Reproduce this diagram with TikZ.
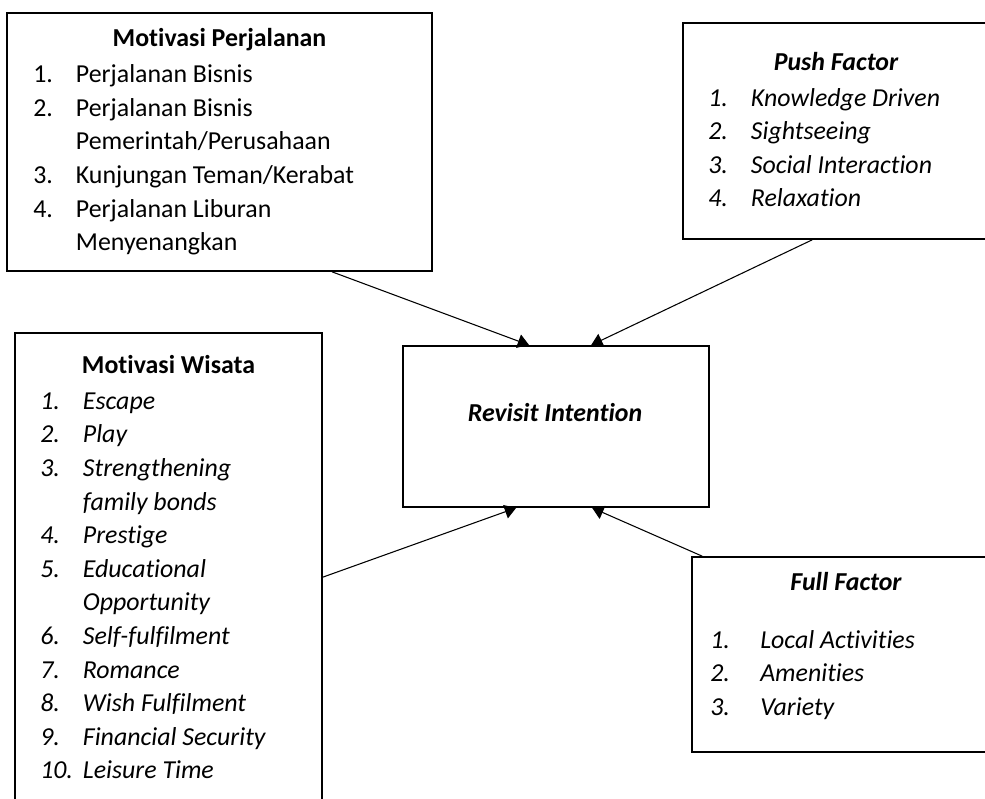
\documentclass[tikz,border=0pt]{standalone}
\usepackage{fontspec}
\setmainfont{Carlito}[Ligatures=NoCommon]
\usetikzlibrary{arrows.meta,calc,fit}
\newcommand{\itm}[3][32pt]{\makebox[#1][l]{#2}#3}
\newcommand{\lst}[1]{\begin{tabular}[t]{@{}l@{}}#1\end{tabular}}
\begin{document}
\begin{tikzpicture}[x=0.75pt,y=-0.75pt,>={Triangle[width=10.5pt,length=8.5pt]},
    box/.style={draw,line width=1.3pt,inner sep=0pt},
    list/.style={anchor=base west,inner sep=0pt,font=\fontsize{19.4}{25.2}\selectfont},
    ilist/.style={list,font=\fontsize{19.4}{25.2}\selectfont\itshape},
    head/.style={anchor=base,inner sep=0pt,font=\fontsize{19.4}{22}\selectfont\bfseries},
    ihead/.style={head,font=\fontsize{19.4}{22}\selectfont\bfseries\itshape},
    conn/.style={->,line width=0.8pt}]
    \clip (0,0) rectangle (985,799);
    % boxes
    \node[box,fit={(7,13) (432,271)}] (mp) {};
    \node[box,fit={(683,23) (989,239)}] (pf) {};
    \node[box,fit={(15,333) (322,830)}] (mw) {};
    \node[box,fit={(403,346) (709,507)}] (ri) {};
    \node[box,fit={(692,557) (1000,752)}] (ff) {};
    % texts
    \node[head] (mph) at (219.5,46.7) {Motivasi Perjalanan};
    \node[list] (mpl) at (33,82.7) {\lst{\itm{1.}{Perjalanan Bisnis}\\ \itm{2.}{Perjalanan Bisnis}\\ \itm{}{Pemerintah/Perusahaan}\\
        \itm{3.}{Kunjungan Teman/Kerabat}\\ \itm{4.}{Perjalanan Liburan}\\ \itm{}{Menyenangkan}}};
    \node[ihead] (pfh) at (836,70) {Push Factor};
    \node[ilist] (pfl) at (708,106) {\lst{\itm{1.}{Knowledge Driven}\\ \itm{2.}{Sightseeing}\\ \itm{3.}{Social Interaction}\\ \itm{4.}{Relaxation}}};
    \node[head] (mwh) at (168.5,373.3) {Motivasi Wisata};
    \node[ilist] (mwl) at (40,409.3) {\lst{\itm{1.}{Escape}\\ \itm{2.}{Play}\\ \itm{3.}{Strengthening}\\ \itm{}{family bonds}\\ \itm{4.}{Prestige}\\
        \itm{5.}{Educational}\\ \itm{}{Opportunity}\\ \itm{6.}{Self-fulfilment}\\ \itm{7.}{Romance}\\ \itm{8.}{Wish Fulfilment}\\
        \itm{9.}{Financial Security}\\ \itm{10.}{Leisure Time}}};
    \node[ihead] (rih) at (555,421.7) {Revisit Intention};
    \node[ihead] (ffh) at (846,590) {Full Factor};
    \node[ilist] (ffl) at (710,648.3) {\lst{\itm[37.5pt]{1.}{Local Activities}\\ \itm[37.5pt]{2.}{Amenities}\\ \itm[37.5pt]{3.}{Variety}}};
    % arrows
    \draw[conn] ($(mp.south west)+(326,0)$) -- ($(ri.north west)+(127,0)$);
    \draw[conn] ($(pf.south west)+(130,0)$) -- ($(ri.north west)+(189,0)$);
    \draw[conn] ($(mw.north east)+(0,245)$) -- ($(ri.south west)+(114,0)$);
    \draw[conn] ($(ff.north west)+(11,0)$) -- ($(ri.south west)+(190,0)$);
\end{tikzpicture}
\end{document}
